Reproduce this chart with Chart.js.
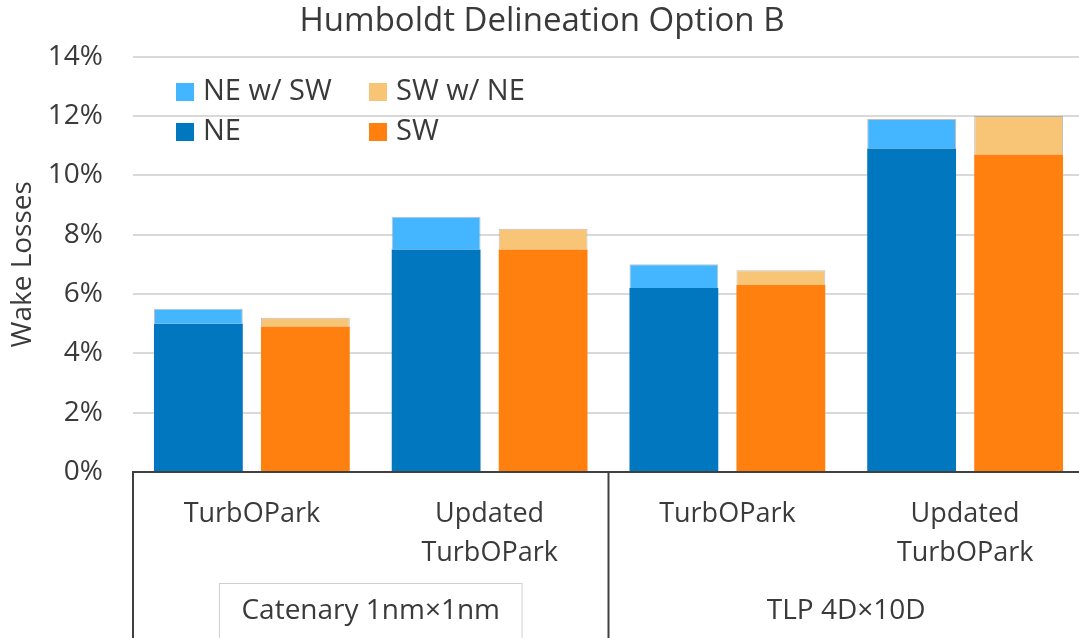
<!DOCTYPE html>
<html>
<head>
<meta charset="utf-8">
<script src="https://cdn.jsdelivr.net/npm/chart.js@4/dist/chart.umd.min.js"></script>
<style>
  html, body { margin: 0; padding: 0; background: #fff; overflow: hidden; }
  #wrap { width: 1084px; height: 638px; }
</style>
</head>
<body>
<div id="wrap"><canvas id="wakeChart"></canvas></div>
<script>
// Kategorien und Gruppen der x-Achse
const categories = [['TurbOPark'], ['Updated', 'TurbOPark'], ['TurbOPark'], ['Updated', 'TurbOPark']];
const groups = ['Catenary 1nm×1nm', 'TLP 4D×10D'];
const groupSize = 2;

// Wake Losses in %
const neValues = [5.0, 7.5, 6.2, 10.9];
const neWithSw = [0.5, 1.1, 0.8, 1.0];
const swValues = [4.9, 7.5, 6.3, 10.7];
const swWithNe = [0.3, 0.7, 0.5, 1.3];

const yTicks = [0, 2, 4, 6, 8, 10, 12, 14];

const FONT = "'Open Sans', sans-serif";
const TEXT = '#3a3a3a';

// Legende im Diagrammbereich, zwei Spalten
const innerLegend = {
  id: 'innerLegend',
  afterDatasetsDraw(chart) {
    const ctx = chart.ctx;
    const order = [1, 3, 0, 2];
    ctx.save();
    ctx.font = '29px ' + FONT;
    ctx.textBaseline = 'middle';
    order.forEach((di, i) => {
      const ds = chart.data.datasets[di];
      const x = 176 + (i % 2) * 193;
      const y = 92 + Math.floor(i / 2) * 40;
      ctx.fillStyle = ds.backgroundColor;
      ctx.fillRect(x, y - 9, 18, 18);
      ctx.fillStyle = TEXT;
      ctx.fillText(ds.label, x + 27, y);
    });
    ctx.restore();
  }
};

// Trennlinien und Gruppenbeschriftung unter der x-Achse
const groupAxis = {
  id: 'groupAxis',
  afterDraw(chart) {
    const ctx = chart.ctx;
    const xs = chart.scales.x;
    const area = chart.chartArea;
    const bottom = chart.height;
    ctx.save();
    ctx.strokeStyle = '#404040';
    ctx.lineWidth = 2;
    for (let g = 0; g < groups.length; g++) {
      const start = g * groupSize;
      const left = g === 0 ? area.left : (xs.getPixelForValue(start - 1) + xs.getPixelForValue(start)) / 2;
      ctx.beginPath();
      ctx.moveTo(left, area.bottom);
      ctx.lineTo(left, bottom);
      ctx.stroke();
    }
    ctx.font = '28px ' + FONT;
    ctx.fillStyle = TEXT;
    ctx.textAlign = 'center';
    ctx.textBaseline = 'middle';
    groups.forEach((name, g) => {
      const start = g * groupSize;
      const end = start + groupSize - 1;
      const cx = (xs.getPixelForValue(start) + xs.getPixelForValue(end)) / 2;
      if (g === 0) {
        const w = ctx.measureText(name).width + 44;
        ctx.strokeStyle = '#d0d0d0';
        ctx.lineWidth = 1;
        ctx.strokeRect(cx - w / 2, 583.5, w, 60);
      }
      ctx.fillText(name, cx, 611);
    });
    ctx.restore();
  }
};

new Chart(document.getElementById('wakeChart'), {
  type: 'bar',
  data: {
    labels: categories,
    datasets: [
      { label: 'NE', data: neValues, stack: 'ne', backgroundColor: '#0077be' },
      { label: 'NE w/ SW', data: neWithSw, stack: 'ne', backgroundColor: '#43b6ff',
        borderColor: 'rgba(150,150,150,0.6)', borderWidth: 1, borderSkipped: 'bottom' },
      { label: 'SW', data: swValues, stack: 'sw', backgroundColor: '#ff800e' },
      { label: 'SW w/ NE', data: swWithNe, stack: 'sw', backgroundColor: '#f8c576',
        borderColor: 'rgba(150,150,150,0.6)', borderWidth: 1, borderSkipped: 'bottom' }
    ]
  },
  options: {
    responsive: true,
    maintainAspectRatio: false,
    animation: false,
    datasets: { bar: { categoryPercentage: 0.9, barPercentage: 0.83 } },
    layout: { padding: 0 },
    plugins: {
      legend: { display: false },
      tooltip: { enabled: false },
      title: {
        display: true,
        text: 'Humboldt Delineation Option B',
        color: TEXT,
        font: { family: FONT, size: 33, weight: 'normal', lineHeight: 1.2 },
        padding: { top: 2, bottom: 15 }
      }
    },
    scales: {
      x: {
        stacked: true,
        grid: { display: false },
        border: { color: '#404040', width: 2 },
        ticks: {
          color: TEXT,
          padding: 15,
          maxRotation: 0,
          font: { family: FONT, size: 27, lineHeight: 1.45 }
        },
        afterFit(scale) { scale.height = 166; }
      },
      y: {
        stacked: true,
        min: 0,
        max: 14,
        afterBuildTicks(scale) { scale.ticks = yTicks.map(v => ({ value: v })); },
        grid: { color: '#d9d9d9', lineWidth: 2, drawTicks: false },
        border: { display: false },
        ticks: {
          color: TEXT,
          padding: 30,
          font: { family: FONT, size: 28 },
          callback: v => v + '%'
        },
        title: {
          display: true,
          text: 'Wake Losses',
          color: TEXT,
          font: { family: FONT, size: 28 },
          padding: { top: 6, bottom: 0 }
        },
        afterFit(scale) { scale.width = 133; }
      }
    }
  },
  plugins: [innerLegend, groupAxis]
});
</script>
</body>
</html>
